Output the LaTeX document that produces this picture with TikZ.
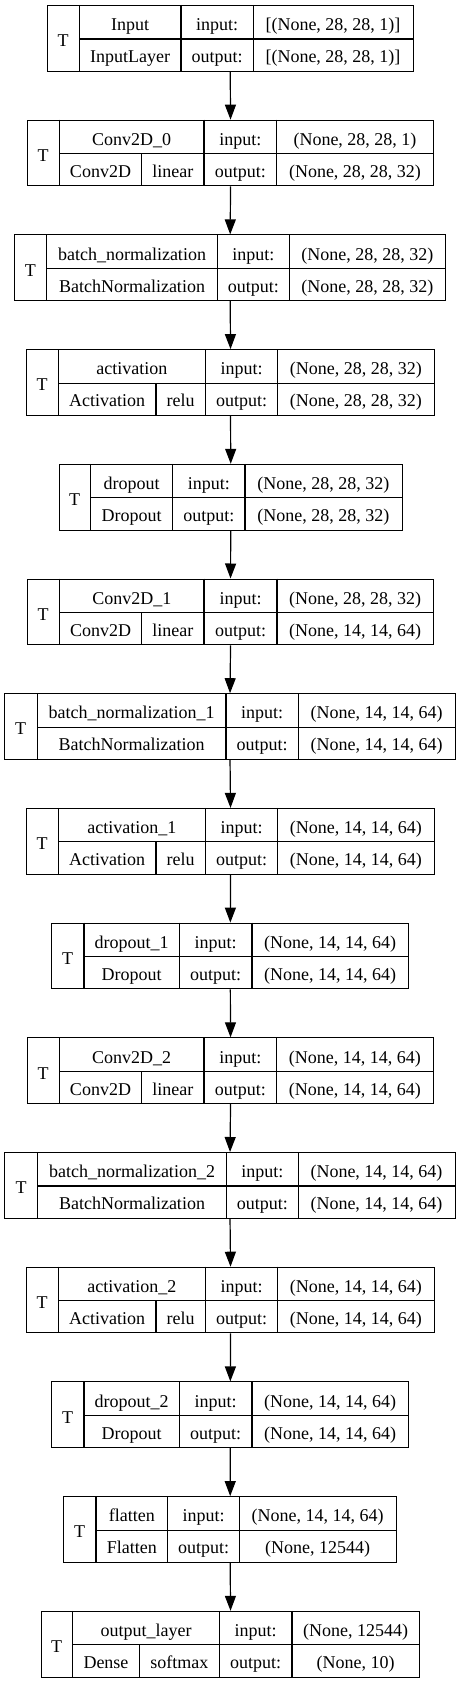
\documentclass[tikz,border=0pt]{standalone}
\usepackage{fontspec}
\setmainfont{Liberation Serif}
\usetikzlibrary{arrows.meta}
\tikzset{
 boxframe/.style={draw=black, line width=0.8pt, rectangle, inner sep=0pt, anchor=north west},
 cellline/.style={draw=black, line width=0.8pt},
 celltext/.style={inner sep=0pt, anchor=base, font=\fontsize{13.5}{16}\selectfont},
 flow/.style={draw=black, line width=0.9pt, -{Triangle[length=11.25pt,width=8.25pt]}}
}
\newcommand\lbox[8]{%
 \def\Lid{#1}\def\Ltop{#2}\def\LL{#3}\def\LT{#4}\def\LA{#5}\def\LB{#6}\def\LR{#7}\def\LS{#8}%
 \lboxB}
\newcommand\lboxB[5]{%
 \pgfmathsetmacro\Lbot{\Ltop+65.7}%
 \pgfmathsetmacro\Lmid{\Ltop+34}%
 \pgfmathsetmacro\Lya{\Ltop+25.7}%
 \pgfmathsetmacro\Lyb{\Ltop+57.7}%
 \pgfmathsetmacro\Lyt{\Ltop+41.7}%
 \node[boxframe, minimum width={(\LR-\LL)*0.75pt}, minimum height={65.7*0.75pt}] (\Lid) at (\LL,\Ltop) {};
 \draw[cellline] (\LT,\Ltop) -- (\LT,\Lbot) (\LA,\Ltop) -- (\LA,\Lbot) (\LB,\Ltop) -- (\LB,\Lbot) (\LT,\Lmid) -- (\LR,\Lmid);
 \node[celltext] (\Lid-t) at ({(\LL+\LT)/2},\Lyt) {T};
 \node[celltext] (\Lid-name) at ({(\LT+\LA)/2},\Lya) {#1};
 \ifdim\LS pt>0pt
   \draw[cellline] (\LS,\Lmid) -- (\LS,\Lbot);
   \node[celltext] (\Lid-class) at ({(\LT+\LS)/2},\Lyb) {#2};
   \node[celltext] (\Lid-act) at ({(\LS+\LA)/2},\Lyb) {#3};
 \else
   \node[celltext] (\Lid-class) at ({(\LT+\LA)/2},\Lyb) {#2};
 \fi
 \node[celltext] (\Lid-il) at ({(\LA+\LB)/2},\Lya) {input:};
 \node[celltext] (\Lid-ol) at ({(\LA+\LB)/2},\Lyb) {output:};
 \node[celltext] (\Lid-iv) at ({(\LB+\LR)/2},\Lya) {#4};
 \node[celltext] (\Lid-ov) at ({(\LB+\LR)/2},\Lyb) {#5};
}
\begin{document}
\begin{tikzpicture}[x=0.75pt,y=-0.75pt]
\useasboundingbox (0,0) rectangle (460,1683);
\lbox{inp}{5}{46.7}{79.3}{181}{253.3}{412.7}{0}{Input}{InputLayer}{}{[(None, 28, 28, 1)]}{[(None, 28, 28, 1)]}
\lbox{c0}{119.7}{26.7}{59.3}{204}{276.7}{433.3}{141.7}{Conv2D\_0}{Conv2D}{linear}{(None, 28, 28, 1)}{(None, 28, 28, 32)}
\lbox{bn}{234.4}{14}{46.7}{217.3}{289.3}{445.3}{0}{batch\_normalization}{BatchNormalization}{}{(None, 28, 28, 32)}{(None, 28, 28, 32)}
\lbox{ac}{349.1}{26}{58.3}{205.3}{277.7}{434}{156}{activation}{Activation}{relu}{(None, 28, 28, 32)}{(None, 28, 28, 32)}
\lbox{dr}{463.8}{58.7}{90.7}{172.7}{245}{401.7}{0}{dropout}{Dropout}{}{(None, 28, 28, 32)}{(None, 28, 28, 32)}
\lbox{ca}{578.5}{26.7}{59.7}{204}{277}{433.3}{141.7}{Conv2D\_1}{Conv2D}{linear}{(None, 28, 28, 32)}{(None, 14, 14, 64)}
\lbox{bna}{693.2}{4}{37.3}{226}{298.3}{455}{0}{batch\_normalization\_1}{BatchNormalization}{}{(None, 14, 14, 64)}{(None, 14, 14, 64)}
\lbox{aca}{807.9}{26}{58.3}{205.3}{277.7}{434}{156}{activation\_1}{Activation}{relu}{(None, 14, 14, 64)}{(None, 14, 14, 64)}
\lbox{dra}{922.6}{51.3}{84}{179.3}{252}{408.3}{0}{dropout\_1}{Dropout}{}{(None, 14, 14, 64)}{(None, 14, 14, 64)}
\lbox{cb}{1037.3}{27}{59.3}{204}{276.7}{433}{141.7}{Conv2D\_2}{Conv2D}{linear}{(None, 14, 14, 64)}{(None, 14, 14, 64)}
\lbox{bnb}{1152}{4.3}{37.7}{226.3}{298.3}{454.7}{0}{batch\_normalization\_2}{BatchNormalization}{}{(None, 14, 14, 64)}{(None, 14, 14, 64)}
\lbox{acb}{1266.7}{26}{58.3}{205.3}{277.7}{434}{156}{activation\_2}{Activation}{relu}{(None, 14, 14, 64)}{(None, 14, 14, 64)}
\lbox{drb}{1381.4}{51.3}{84}{179.3}{252}{408.3}{0}{dropout\_2}{Dropout}{}{(None, 14, 14, 64)}{(None, 14, 14, 64)}
\lbox{fl}{1496.1}{63.3}{96}{167.7}{239.3}{396}{0}{flatten}{Flatten}{}{(None, 14, 14, 64)}{(None, 12544)}
\lbox{ou}{1610.8}{40.7}{72.7}{219.3}{292}{419.3}{139.3}{output\_layer}{Dense}{softmax}{(None, 12544)}{(None, 10)}
\foreach \a/\b in {inp/c0,c0/bn,bn/ac,ac/dr,dr/ca,ca/bna,bna/aca,aca/dra,dra/cb,cb/bnb,bnb/acb,acb/drb,drb/fl,fl/ou}
  \draw[flow] (\a.south) -- (\b.north);
\end{tikzpicture}
\end{document}
